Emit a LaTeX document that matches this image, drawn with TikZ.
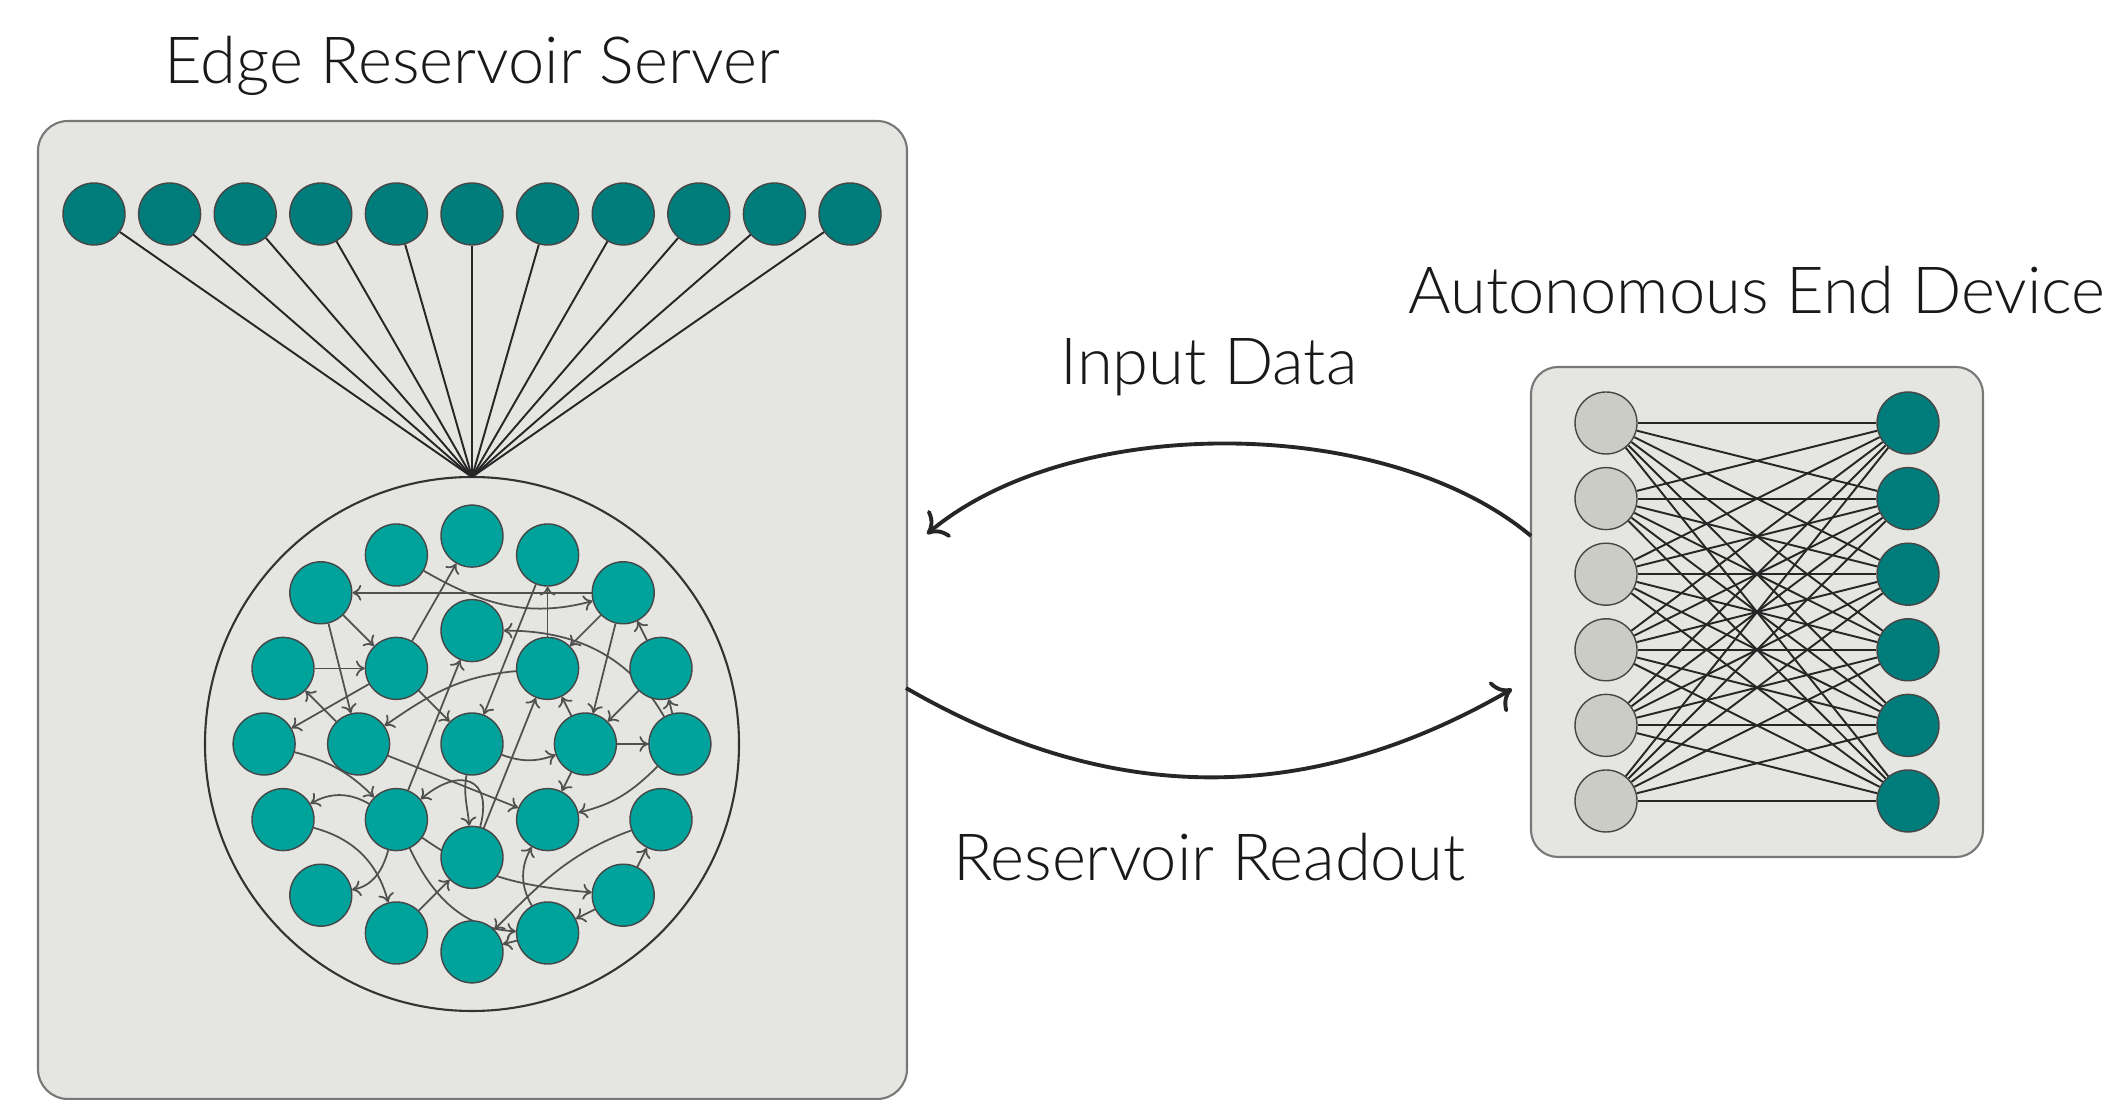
\documentclass[tikz,border=0pt]{standalone}
\usepackage{fontspec}
\setmainfont{Lato Light}
\usetikzlibrary{arrows.meta}

\definecolor{boxfill}{RGB}{229,230,225}
\definecolor{boxline}{RGB}{120,120,120}
\definecolor{nodeline}{RGB}{70,70,70}
\definecolor{tealdark}{RGB}{0,125,123}
\definecolor{tealres}{RGB}{0,163,156}
\definecolor{grayin}{RGB}{204,204,198}
\definecolor{edgegray}{RGB}{80,80,80}

\pgfdeclarelayer{back}
\pgfdeclarelayer{mid}
\pgfsetlayers{back,mid,main}

\begin{document}
\begin{tikzpicture}[
    neuron/.style={circle, draw=nodeline, line width=0.4pt, minimum size=0.62cm, inner sep=0pt},
    inneuron/.style={neuron, fill=tealdark},
    resneuron/.style={neuron, fill=tealres},
    devin/.style={neuron, fill=grayin},
    devout/.style={neuron, fill=tealdark},
    link/.style={edgegray, line width=0.5pt, -{To[length=2.5pt,width=4.5pt]}},
    wire/.style={black!85, line width=0.55pt},
    flow/.style={black!85, line width=1.1pt, -{To[length=5pt,width=10pt]}},
    label/.style={text=black!90, font=\fontsize{18.5}{22}\selectfont, anchor=base}
  ]
  \useasboundingbox (0,0) rectangle (21.13,11);

  % Servidor (caja gris)
  \begin{pgfonlayer}{back}
    \draw[boxline, fill=boxfill, line width=0.6pt, rounded corners=0.3cm] (0.38,0.01) rectangle (9.07,9.79);
    \draw[boxline, fill=boxfill, line width=0.6pt, rounded corners=0.27cm] (15.31,2.43) rectangle (19.83,7.33);
  \end{pgfonlayer}
  \node[label] (serverTitle) at (4.72,10.16) {Edge Reservoir Server};

  % Entradas
  \foreach \i in {1,...,11}
    \node[inneuron] (in\i) at ({4.72+0.756*(\i-6)},8.86) {};

  % Reservorio
  \draw[black!80, line width=0.6pt] (4.72,3.56) circle (2.67);
  \coordinate (fan) at (4.72,6.23);
  \foreach \i in {1,...,11}
    \draw[wire] (in\i) -- (fan);

  \foreach \n/\a/\b in {1/-2/-5, 2/0/-5.5, 3/2/-5, 4/-4/-4, 5/4/-4, 6/0/-3,
      7/-5/-2, 8/-2/-2, 9/2/-2, 10/5/-2,
      11/-5.5/0, 12/-3/0, 13/0/0, 14/3/0, 15/5.5/0,
      16/-5/2, 17/-2/2, 18/2/2, 19/5/2, 20/0/3,
      21/-4/4, 22/4/4, 23/-2/5, 24/2/5, 25/0/5.5}
    \node[resneuron] (r\n) at ({4.72+0.378*\a},{3.56-0.378*\b}) {};

  \begin{pgfonlayer}{mid}
    % conexiones rectas
    \foreach \s/\t in {5/4, 9/3, 3/13, 4/8, 4/12, 8/2, 7/8, 12/7, 8/11, 8/13,
        17/6, 5/9, 5/14, 10/5, 10/14, 14/9, 15/10, 14/15, 14/18, 12/18,
        20/9, 23/20, 22/19, 22/24, 24/25}
      \draw[link] (r\s) -- (r\t);
    % conexiones curvas
    \draw[link] (r1) to[out=-30,in=195] (r5);
    \draw[link] (r9) to[out=185,in=35] (r12);
    \draw[link] (r15) to[out=120,in=0] (r6);
    \draw[link] (r13) to[bend right=20] (r14);
    \draw[link] (r15) to[out=225,in=13] (r18);
    \draw[link] (r11) to[out=-15,in=135] (r17);
    \draw[link] (r13) to[out=-100,in=95] (r20);
    \draw[link] (r20) to[out=75,in=40,looseness=2] (r17);
    \draw[link] (r17) to[bend right=30] (r16);
    \draw[link] (r16) to[out=-15,in=105] (r23);
    \draw[link] (r17) to[out=-105,in=10] (r21);
    \draw[link] (r17) to[out=-35,in=175] (r22);
    \draw[link] (r17) to[out=-65,in=177] (r24);
    \draw[link] (r24) to[bend left=30] (r18);
    \draw[link] (r19) to[out=200,in=45] (r25);
  \end{pgfonlayer}

  % Dispositivo final
  \node[label] (deviceTitle) at (17.57,7.86) {Autonomous End Device};
  \foreach \i in {1,...,6} {
    \node[devin] (L\i) at (16.06,{6.77-0.756*(\i-1)}) {};
    \node[devout] (R\i) at (19.08,{6.77-0.756*(\i-1)}) {};
  }
  \begin{pgfonlayer}{mid}
    \foreach \i in {1,...,6}
      \foreach \j in {1,...,6}
        \draw[wire] (L\i) -- (R\j);
  \end{pgfonlayer}

  % Flechas entre servidor y dispositivo
  \coordinate (inStart) at (15.31,5.64);
  \coordinate (inEnd) at (9.27,5.66);
  \draw[flow] (inStart) to[out=140,in=40,looseness=0.8] (inEnd);
  \node[label] (inputLabel) at (12.09,7.15) {Input Data};

  \coordinate (outStart) at (9.06,4.12);
  \coordinate (outEnd) at (15.12,4.11);
  \draw[flow] (outStart) to[out=-30,in=-150] (outEnd);
  \node[label] (readoutLabel) at (12.09,2.19) {Reservoir Readout};
\end{tikzpicture}
\end{document}
